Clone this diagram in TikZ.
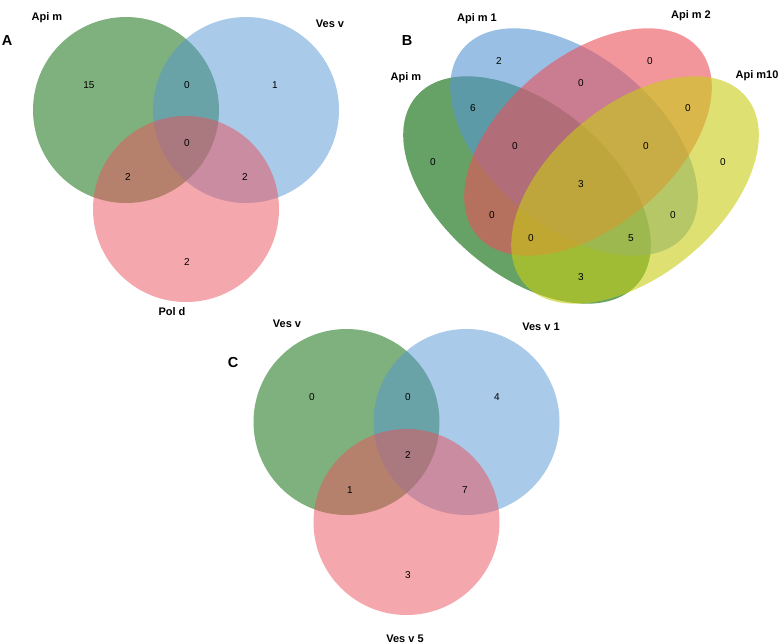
\documentclass[tikz,border=0pt]{standalone}
\usepackage{fontspec}
\setmainfont{Liberation Sans}
\definecolor{vg}{RGB}{0,100,0}
\definecolor{vb}{RGB}{85,150,210}
\definecolor{vr}{RGB}{235,80,90}
\definecolor{vy}{RGB}{200,205,20}
\tikzset{
  vcircle/.style={circle, draw=none, minimum size=186pt, inner sep=0pt, fill opacity=0.5},
  vell/.style={draw=none, fill opacity=0.6},
  setlabel/.style={font=\fontsize{11}{13}\selectfont\bfseries, anchor=base, inner sep=0pt},
  panel/.style={font=\fontsize{14.5}{16}\selectfont\bfseries, anchor=base, inner sep=0pt},
  num/.style={font=\fontsize{10}{12}\selectfont, inner sep=0pt}
}
\begin{document}
\begin{tikzpicture}[x=1pt,y=-1pt]
\useasboundingbox[fill=white] (0,0) rectangle (784,643);
% ---------- Panel A ----------
\node[vcircle, fill=vg] (ag) at (126,110) {};
\node[vcircle, fill=vb] (ab) at (246,110) {};
\node[vcircle, fill=vr] (ar) at (186,209) {};
\node[panel] (pa) at (7,45) {A};
\node[setlabel] (la1) at (47,20) {Api m};
\node[setlabel] (la2) at (330,27) {Ves v};
\node[setlabel] (la3) at (172,315) {Pol d};
\node[num] (na1) at (89,85) {15};
\node[num] (na2) at (187,85) {0};
\node[num] (na3) at (275,85) {1};
\node[num] (na4) at (187,143) {0};
\node[num] (na5) at (128,177) {2};
\node[num] (na6) at (245,177) {2};
\node[num] (na7) at (187,262) {2};
% ---------- Panel B ----------
\fill[vell, vg, rotate around={-40:(527,190)}] (527,190) ellipse [x radius=145, y radius=85];
\fill[vell, vb, rotate around={-40:(574,142)}] (574,142) ellipse [x radius=145, y radius=85];
\fill[vell, vr, rotate around={40:(588,142)}] (588,142) ellipse [x radius=145, y radius=85];
\fill[vell, vy, rotate around={40:(635,190)}] (635,190) ellipse [x radius=145, y radius=85];
\node[panel] (pb) at (407,45) {B};
\node[setlabel] (lb1) at (406,80) {Api m};
\node[setlabel] (lb2) at (477,21) {Api m 1};
\node[setlabel] (lb3) at (691,18) {Api m 2};
\node[setlabel] (lb4) at (757,78) {Api m10};
\node[num] (nb1) at (499,61) {2};
\node[num] (nb2) at (650,61) {0};
\node[num] (nb3) at (581,83) {0};
\node[num] (nb4) at (473,108) {6};
\node[num] (nb5) at (688,108) {0};
\node[num] (nb6) at (515,146) {0};
\node[num] (nb7) at (646,146) {0};
\node[num] (nb8) at (433,162) {0};
\node[num] (nb9) at (723,162) {0};
\node[num] (nb10) at (581,184) {3};
\node[num] (nb11) at (492,215) {0};
\node[num] (nb12) at (673,215) {0};
\node[num] (nb13) at (531,238) {0};
\node[num] (nb14) at (631,238) {5};
\node[num] (nb15) at (581,277) {3};
% ---------- Panel C ----------
\node[vcircle, fill=vg] (cg) at (346.5,422) {};
\node[vcircle, fill=vb] (cb) at (466.5,422) {};
\node[vcircle, fill=vr] (cr) at (406.5,522) {};
\node[panel] (pc) at (233,367) {C};
\node[setlabel] (lc1) at (287,327) {Ves v};
\node[setlabel] (lc2) at (541,330) {Ves v 1};
\node[setlabel] (lc3) at (405,642) {Ves v 5};
\node[num] (nc1) at (312,397) {0};
\node[num] (nc2) at (408,397) {0};
\node[num] (nc3) at (497,397) {4};
\node[num] (nc4) at (408,455) {2};
\node[num] (nc5) at (350,490) {1};
\node[num] (nc6) at (465,490) {7};
\node[num] (nc7) at (408,575) {3};
\end{tikzpicture}
\end{document}
